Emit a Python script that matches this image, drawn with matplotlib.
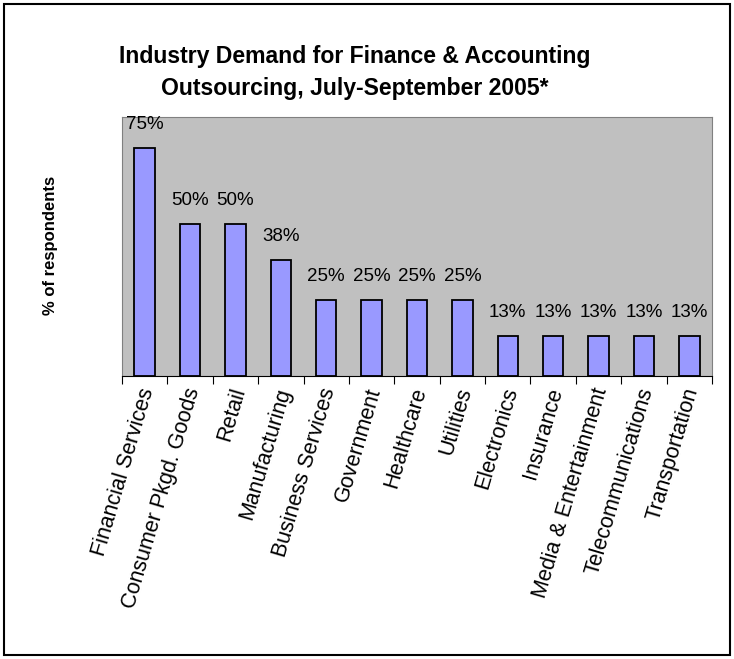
import matplotlib.pyplot as plt
from matplotlib.patches import Rectangle

industrias = ['Financial Services', 'Consumer Pkgd. Goods', 'Retail', 'Manufacturing',
              'Business Services', 'Government', 'Healthcare', 'Utilities', 'Electronics',
              'Insurance', 'Media & Entertainment', 'Telecommunications', 'Transportation']
porcentajes = [75, 50, 50, 38, 25, 25, 25, 25, 13, 13, 13, 13, 13]

plt.rcParams['font.family'] = ['Liberation Sans', 'DejaVu Sans']

fig = plt.figure(figsize=(7.34, 6.59), dpi=100)
# marco exterior negro
fig.patches.append(Rectangle((0.006, 0.006), 0.988, 0.988, transform=fig.transFigure,
                             fill=False, edgecolor='black', linewidth=1.5))

ax = fig.add_axes([122 / 734, 1 - 376 / 659, 590 / 734, 259 / 659])
ax.set_facecolor('#C0C0C0')
for s in ax.spines.values():
    s.set_color('#808080')
ax.spines['bottom'].set_color('black')

x = list(range(len(industrias)))
ax.bar(x, porcentajes, width=0.45, color='#9999FF', edgecolor='black', linewidth=1.3)
for xi, v in zip(x, porcentajes):
    ax.annotate(f'{v}%', (xi, v), xytext=(0, 11), textcoords='offset points',
                ha='center', va='bottom', fontsize=13.5)

ax.set_xlim(-0.5, len(industrias) - 0.5)
ax.set_ylim(0, 85.2)
ax.set_yticks([])
ax.set_xticks([i - 0.5 for i in range(len(industrias) + 1)])
ax.set_xticklabels([])
ax.tick_params(axis='x', direction='out', length=6, color='black')
for xi, nombre in zip(x, industrias):
    ax.text(xi + 0.08, -4, nombre, rotation=73.5, rotation_mode='anchor', ha='right', va='center',
            fontsize=15.5, transform=ax.transData, clip_on=False)

fig.text(355 / 734, 1 - 57 / 659, 'Industry Demand for Finance & Accounting', ha='center', va='center',
         fontsize=16.6, fontweight='bold')
fig.text(355 / 734, 1 - 88 / 659, 'Outsourcing, July-September 2005*', ha='center', va='center',
         fontsize=16.6, fontweight='bold')
fig.text(50 / 734, 1 - 245 / 659, '% of respondents', rotation=90, ha='center', va='center',
         fontsize=12, fontweight='bold')

plt.savefig('out.png')
